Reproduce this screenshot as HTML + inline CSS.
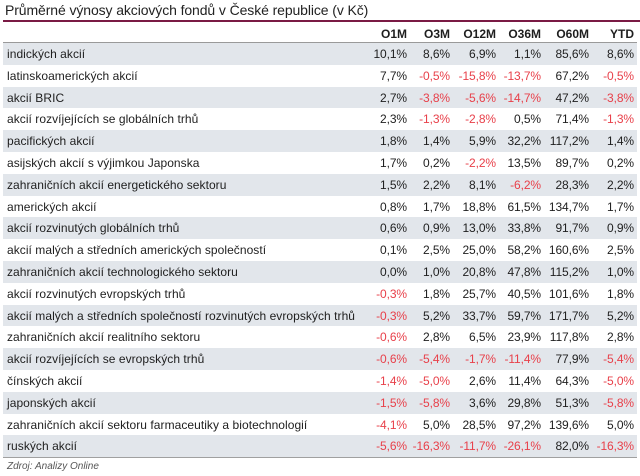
<!DOCTYPE html>
<html><head><meta charset="utf-8">
<style>
body{margin:0;width:640px;height:476px;background:#fff;font-family:"Liberation Sans",sans-serif;color:#1e1e1e;position:relative;overflow:hidden}
#title{position:absolute;left:5px;top:2px;font-size:14px;letter-spacing:-0.1px;color:#222}
#rule{position:absolute;left:3px;right:0;top:20px;height:2px;background:#7a1a44}
.hdr{position:absolute;top:27px;font-size:12px;font-weight:bold;text-align:right;width:50px}
#hline{position:absolute;left:3px;right:3px;top:42px;height:2px;background:#9a9a9a}
.row{position:absolute;left:3px;width:634px;height:21.8px}
.row.sh{background:#e2e6eb}
.lab{position:absolute;left:4px;top:4px;font-size:12px;letter-spacing:0.05px;white-space:nowrap}
.val{position:absolute;top:4px;font-size:12px;letter-spacing:-0.1px;text-align:right;width:56px}
.neg{color:#e8404a}
#bline{position:absolute;left:3px;right:3px;top:456px;height:2px;background:#a0a0a0}
#src{position:absolute;left:7px;top:461px;font-size:10px;font-style:italic;color:#555}
</style></head><body>
<div id="title">Průměrné výnosy akciových fondů v České republice (v Kč)</div>
<div id="rule"></div>
<div id="hline"></div>
<div id="bline"></div>
<div id="src">Zdroj: Analizy Online</div>
<script>
const columns=["O1M","O3M","O12M","O36M","O60M","YTD"];
const categories=["indických akcií","latinskoamerických akcií","akcií BRIC","akcií rozvíjejících se globálních trhů","pacifických akcií","asijských akcií s výjimkou Japonska","zahraničních akcií energetického sektoru","amerických akcií","akcií rozvinutých globálních trhů","akcií malých a středních amerických společností","zahraničních akcií technologického sektoru","akcií rozvinutých evropských trhů","akcií malých a středních společností rozvinutých evropských trhů","zahraničních akcií realitního sektoru","akcií rozvíjejících se evropských trhů","čínských akcií","japonských akcií","zahraničních akcií sektoru farmaceutiky a biotechnologií","ruských akcií"];
const o1m=[10.1,7.7,2.7,2.3,1.8,1.7,1.5,0.8,0.6,0.1,0.0,-0.3,-0.3,-0.6,-0.6,-1.4,-1.5,-4.1,-5.6];
const o3m=[8.6,-0.5,-3.8,-1.3,1.4,0.2,2.2,1.7,0.9,2.5,1.0,1.8,5.2,2.8,-5.4,-5.0,-5.8,5.0,-16.3];
const o12m=[6.9,-15.8,-5.6,-2.8,5.9,-2.2,8.1,18.8,13.0,25.0,20.8,25.7,33.7,6.5,-1.7,2.6,3.6,28.5,-11.7];
const o36m=[1.1,-13.7,-14.7,0.5,32.2,13.5,-6.2,61.5,33.8,58.2,47.8,40.5,59.7,23.9,-11.4,11.4,29.8,97.2,-26.1];
const o60m=[85.6,67.2,47.2,71.4,117.2,89.7,28.3,134.7,91.7,160.6,115.2,101.6,171.7,117.8,77.9,64.3,51.3,139.6,82.0];
const ytd=[8.6,-0.5,-3.8,-1.3,1.4,0.2,2.2,1.7,0.9,2.5,1.0,1.8,5.2,2.8,-5.4,-5.0,-5.8,5.0,-16.3];
const series=[o1m,o3m,o12m,o36m,o60m,ytd];
const colRight=[407,450,496,541,589,634];
const top0=43,rowH=21.8;
function fmt(v){return v.toFixed(1).replace('.',',')+'%';}
columns.forEach((c,j)=>{
  const h=document.createElement('div');h.className='hdr';
  
  
  h.style.left=(colRight[j]-50)+'px';h.textContent=c;document.body.appendChild(h);
});
categories.forEach((cat,i)=>{
  const r=document.createElement('div');r.className='row'+(i%2===0?' sh':'');
  
  
  r.style.top=(top0+i*rowH)+'px';
  const l=document.createElement('div');l.className='lab';l.textContent=cat;
  
  
  r.appendChild(l);
  series.forEach((s,j)=>{
    const v=document.createElement('div');v.className='val'+(s[i]<0?' neg':'');
    
    
    v.style.left=(colRight[j]-3-56)+'px';v.textContent=fmt(s[i]);r.appendChild(v);
  });
  document.body.appendChild(r);
});
</script>
</body></html>
